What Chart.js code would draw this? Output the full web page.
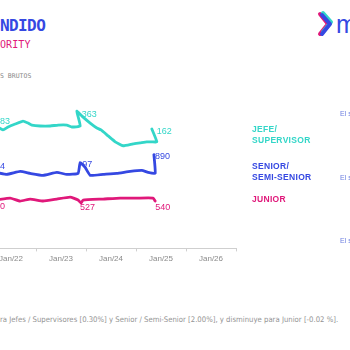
<!DOCTYPE html>
<html>
<head>
<meta charset="utf-8">
<script src="https://cdn.jsdelivr.net/npm/chart.js@4"></script>
<style>
    html, body { margin: 0; padding: 0; background: #fff; }
    body { width: 350px; height: 350px; position: relative; overflow: hidden; font-family: 'Liberation Sans', Arial, sans-serif; }
    .abs { position: absolute; white-space: nowrap; line-height: 1; }
    #chartBox { position: absolute; left: 0; top: 0; width: 350px; height: 267px; }
    .title { left: 0; top: 16px; font: bold 16px 'DejaVu Sans Mono', monospace; color: #3548e2; letter-spacing: -0.6px; }
    .subtitle { left: 0; top: 39px; font: 10px 'DejaVu Sans Mono', monospace; color: #e0187a; letter-spacing: 0.1px; }
    .unit { left: 0; top: 72px; font: 6.5px 'DejaVu Sans Mono', monospace; color: #888; }
    .legend { left: 252px; font: bold 8.5px 'Liberation Sans', Arial, sans-serif; letter-spacing: 0.3px; line-height: 11px; }
    .side { left: 340px; font: 7px 'Liberation Sans', Arial, sans-serif; color: #6f80e0; }
    .note { left: 0; top: 315px; font: 7.7px 'DejaVu Sans Condensed', 'DejaVu Sans', sans-serif; color: #949494; }
    .logo-m { left: 336px; top: 10px; font: 25px 'Liberation Sans', Arial, sans-serif; color: #3548e2; }
</style>
</head>
<body>
<div class="abs title">NDIDO</div>
<div class="abs subtitle">ORITY</div>
<div class="abs unit">S BRUTOS</div>

<svg class="abs" style="left:314px;top:10px" width="22" height="30">
    <polyline points="6,4 14,14 6,24" fill="none" stroke="#e0187a" stroke-width="4" stroke-linecap="round" stroke-linejoin="round"/>
    <polyline points="9,3 17,12 9,22" fill="none" stroke="#33d6c8" stroke-width="4" stroke-linecap="round" stroke-linejoin="round"/>
    <polyline points="8,5 16,14 8,24" fill="none" stroke="#3548e2" stroke-width="4" stroke-linecap="round" stroke-linejoin="round"/>
</svg>
<div class="abs logo-m">m</div>

<div id="chartBox"><canvas id="salaryChart"></canvas></div>

<div class="abs legend" style="top:124px;color:#33d6c8">JEFE/<br>SUPERVISOR</div>
<div class="abs legend" style="top:161px;color:#3548e2">SENIOR/<br>SEMI-SENIOR</div>
<div class="abs legend" style="top:194px;color:#e0187a">JUNIOR</div>

<div class="abs side" style="top:110px">El s</div>
<div class="abs side" style="top:174px">El s</div>
<div class="abs side" style="top:237px">El s</div>

<div class="abs note">ra Jefes / Supervisores [0.30%] y Senior / Semi-Senior [2.00%], y disminuye para Junior [-0.02 %].</div>

<script>
// Mois depuis Jan/22 (0 = Jan/22) et valeurs
const jefeMonths = [-3.6, -1.9, -0.7, 1.0, 2.9, 4.1, 5.0, 7.0, 9.4, 11.3, 13.4, 14.6, 16.6, 15.8, 17.3, 19.0, 20.6, 21.6, 23.3, 25.0, 26.9, 29.3, 31.0, 32.6, 33.8, 35.0, 33.8];
const jefeValues = [124, 120, 123, 126, 129, 127, 125, 124, 124, 125, 125, 123, 124, 139, 133, 127, 122, 120, 114, 108, 104, 106, 107, 108, 108, 108, 121];

const seniorMonths = [-3.6, -1.0, 2.2, 4.6, 7.7, 11.0, 13.4, 16.1, 16.6, 17.8, 19.0, 22.1, 25.4, 28.6, 31.4, 32.9, 34.6, 34.3];
const seniorValues = [77, 75, 78, 76, 74, 77, 75, 76, 87, 82, 74, 75, 76, 78, 79, 77, 76, 95];

const juniorMonths = [-3.6, -0.2, 2.2, 4.6, 7.7, 11.0, 14.2, 16.1, 16.8, 17.3, 22.1, 26.2, 30.2, 34.1, 34.6];
const juniorValues = [49, 51, 48, 50, 48, 50, 52, 49, 46, 49, 50, 51, 51, 51, 48];

// Etiquettes visibles (debut, saut, fin)
const jefeTags = ['83', '363', '162'];
const seniorTags = ['4', '97', '890'];
const juniorTags = ['0', '527', '540'];
const jefeTagAt = [0, 13, 26];
const seniorTagAt = [0, 8, 17];
const juniorTagAt = [0, 8, 14];

// Graduations de l'axe (mois) et libelles
const tickMonths = [0, 6, 12, 18, 24, 30, 36, 42, 48, 54];
const tickLabels = ['Jan/22', '', 'Jan/23', '', 'Jan/24', '', 'Jan/25', '', 'Jan/26', ''];

const COLORS = {
    jefe: '#33d6c8',
    senior: '#3548e2',
    junior: '#e0187a',
    axis: '#cfcfcf',
    tick: '#8a8a8a'
};

function toPoints(months, values) {
    return months.map((m, i) => ({ x: m, y: values[i] }));
}

/**
 * Dessine les etiquettes de valeur a cote des points
 */
const tagPlugin = {
    id: 'tags',
    afterDatasetsDraw(chart) {
        const ctx = chart.ctx;
        const offsets = [
            [[4, -4], [5, 3], [5, 3]],
            [[4, -6], [2, 2], [1, 2]],
            [[4, 6], [-1, 5], [0, 6]]
        ];
        ctx.save();
        ctx.font = '9px "Liberation Sans", Arial, sans-serif';
        ctx.textAlign = 'left';
        ctx.textBaseline = 'middle';
        chart.data.datasets.forEach((ds, d) => {
            const meta = chart.getDatasetMeta(d);
            ctx.fillStyle = ds.borderColor;
            ds.tagAt.forEach((idx, k) => {
                const pt = meta.data[idx];
                ctx.fillText(ds.tags[k], pt.x + offsets[d][k][0], pt.y + offsets[d][k][1]);
            });
        });
        ctx.restore();
    }
};

new Chart(document.getElementById('salaryChart'), {
    type: 'line',
    data: {
        datasets: [
            { data: toPoints(jefeMonths, jefeValues), borderColor: COLORS.jefe, tags: jefeTags, tagAt: jefeTagAt },
            { data: toPoints(seniorMonths, seniorValues), borderColor: COLORS.senior, tags: seniorTags, tagAt: seniorTagAt },
            { data: toPoints(juniorMonths, juniorValues), borderColor: COLORS.junior, tags: juniorTags, tagAt: juniorTagAt }
        ]
    },
    options: {
        responsive: true,
        maintainAspectRatio: false,
        animation: false,
        layout: { padding: { left: 0, right: 114, top: 51, bottom: 0 } },
        elements: {
            line: { borderWidth: 2.8, tension: 0.12, borderCapStyle: 'round', borderJoinStyle: 'round' },
            point: { radius: 0 }
        },
        plugins: {
            legend: { display: false },
            tooltip: { enabled: false }
        },
        scales: {
            x: {
                type: 'linear',
                min: -2.64,
                max: 54,
                afterBuildTicks: scale => {
                    scale.ticks = tickMonths.map(v => ({ value: v }));
                },
                afterFit: scale => {
                    scale.paddingLeft = 0;
                    scale.paddingRight = 0;
                },
                border: { display: true, color: COLORS.axis, width: 1 },
                grid: {
                    drawOnChartArea: false,
                    drawTicks: true,
                    tickLength: 3,
                    tickColor: c => (c.tick && c.tick.value % 12 === 6) ? COLORS.axis : 'rgba(0,0,0,0)'
                },
                ticks: {
                    autoSkip: false,
                    maxRotation: 0,
                    padding: 3,
                    color: COLORS.tick,
                    font: { family: "'Liberation Sans', Arial, sans-serif", size: 8 },
                    callback: (v, i) => tickLabels[i]
                }
            },
            y: {
                display: false,
                min: 0,
                max: 200
            }
        }
    },
    plugins: [tagPlugin]
});
</script>
</body>
</html>
